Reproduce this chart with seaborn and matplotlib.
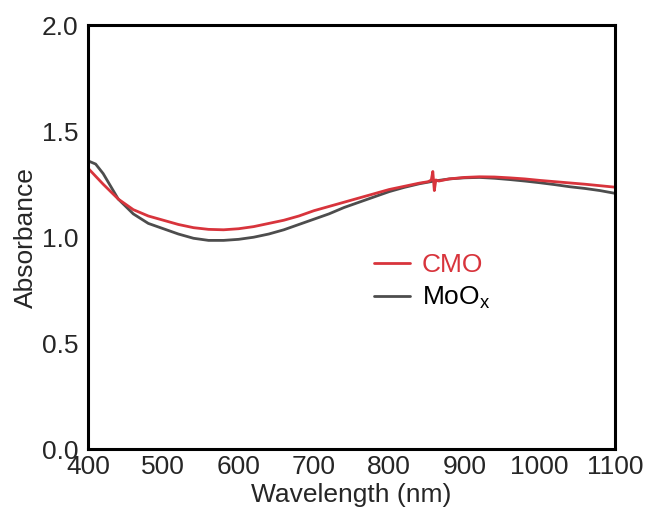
import numpy as np
import pandas as pd
import matplotlib
matplotlib.use("Agg")
import matplotlib.pyplot as plt
import seaborn as sns
from matplotlib.ticker import MultipleLocator
from matplotlib.lines import Line2D

# ---- data ----
cmo_wl = [400, 420, 440, 460, 480, 500, 520, 540, 560, 580, 600, 620, 640, 660, 680,
          700, 720, 740, 760, 780, 800, 820, 840, 852, 856, 858, 860, 862, 866, 880,
          900, 920, 940, 960, 980, 1000, 1020, 1040, 1060, 1080, 1100]
cmo_abs = [1.325, 1.25, 1.18, 1.13, 1.10, 1.08, 1.06, 1.045, 1.037, 1.035, 1.04, 1.05,
           1.065, 1.08, 1.10, 1.125, 1.145, 1.165, 1.185, 1.205, 1.225, 1.24, 1.255,
           1.262, 1.27, 1.31, 1.22, 1.27, 1.265, 1.275, 1.282, 1.285, 1.284, 1.28,
           1.275, 1.268, 1.262, 1.256, 1.25, 1.243, 1.236]

moox_wl = [400, 410, 420, 440, 460, 480, 500, 520, 540, 560, 580, 600, 620, 640, 660,
           680, 700, 720, 740, 760, 780, 800, 820, 840, 860, 880, 900, 920, 940, 960,
           980, 1000, 1020, 1040, 1060, 1080, 1100]
moox_abs = [1.36, 1.345, 1.30, 1.18, 1.11, 1.065, 1.04, 1.015, 0.995, 0.985, 0.985,
            0.99, 1.0, 1.015, 1.035, 1.06, 1.085, 1.11, 1.14, 1.165, 1.19, 1.215,
            1.235, 1.252, 1.265, 1.275, 1.28, 1.282, 1.278, 1.272, 1.265, 1.257,
            1.248, 1.238, 1.23, 1.22, 1.207]

series_names = ["CMO", "MoOx"]
x_ticks = [400, 500, 600, 700, 800, 900, 1000, 1100]
y_ticks = [0.0, 0.5, 1.0, 1.5, 2.0]

df = pd.concat([
    pd.DataFrame({"wl": cmo_wl, "abs": cmo_abs, "sample": series_names[0]}),
    pd.DataFrame({"wl": moox_wl, "abs": moox_abs, "sample": series_names[1]}),
])

sns.set_style("white")
plt.rcParams["font.family"] = ["Liberation Sans", "DejaVu Sans"]
plt.rcParams["mathtext.fontset"] = "custom"
plt.rcParams["mathtext.rm"] = "Liberation Sans"

red = "#d8343c"
gray = "#4d4d4d"
FS = 19

fig, ax = plt.subplots(figsize=(6.48, 5.14), dpi=100)
fig.subplots_adjust(left=0.136, right=0.949, top=0.951, bottom=0.126)

sns.lineplot(data=df, x="wl", y="abs", hue="sample", palette={"CMO": red, "MoOx": gray},
             hue_order=["MoOx", "CMO"], linewidth=2.0, ax=ax, legend=False, sort=False,
             estimator=None)

ax.set_xlim(400, 1100)
ax.set_ylim(0, 2.0)
ax.set_xticks(x_ticks)
ax.set_xticklabels([str(t) for t in x_ticks])
ax.set_yticks(y_ticks)
ax.set_yticklabels([f"{t:.1f}" for t in y_ticks])
ax.yaxis.set_minor_locator(MultipleLocator(0.25))

ax.tick_params(axis="both", which="both", direction="in", labelsize=FS, width=1.5,
               top=False, right=False)
ax.tick_params(axis="x", which="major", length=6, pad=4)
ax.tick_params(axis="y", which="major", length=6, pad=7)
ax.tick_params(axis="both", which="minor", length=3)
for i, t in enumerate(ax.xaxis.get_major_ticks()):
    if x_ticks[i] in (500, 700, 900):
        t.tick1line.set_markersize(3)
for sp in ax.spines.values():
    sp.set_linewidth(2.2)
    sp.set_color("black")

ax.set_xlabel("Wavelength (nm)", fontsize=FS, labelpad=3)
ax.set_ylabel("Absorbance", fontsize=FS, labelpad=3)

handles = [Line2D([], [], color=red, lw=2.0), Line2D([], [], color=gray, lw=2.0)]
leg = ax.legend(handles, ["CMO", r"MoO$_\mathregular{x}$"], loc="center left",
                bbox_to_anchor=(0.498, 0.394), frameon=False, fontsize=FS,
                handlelength=1.35, handletextpad=0.45, labelspacing=0.3)
leg.get_texts()[0].set_color(red)
leg.get_texts()[1].set_color("black")

fig.savefig("out.png", dpi=100)
